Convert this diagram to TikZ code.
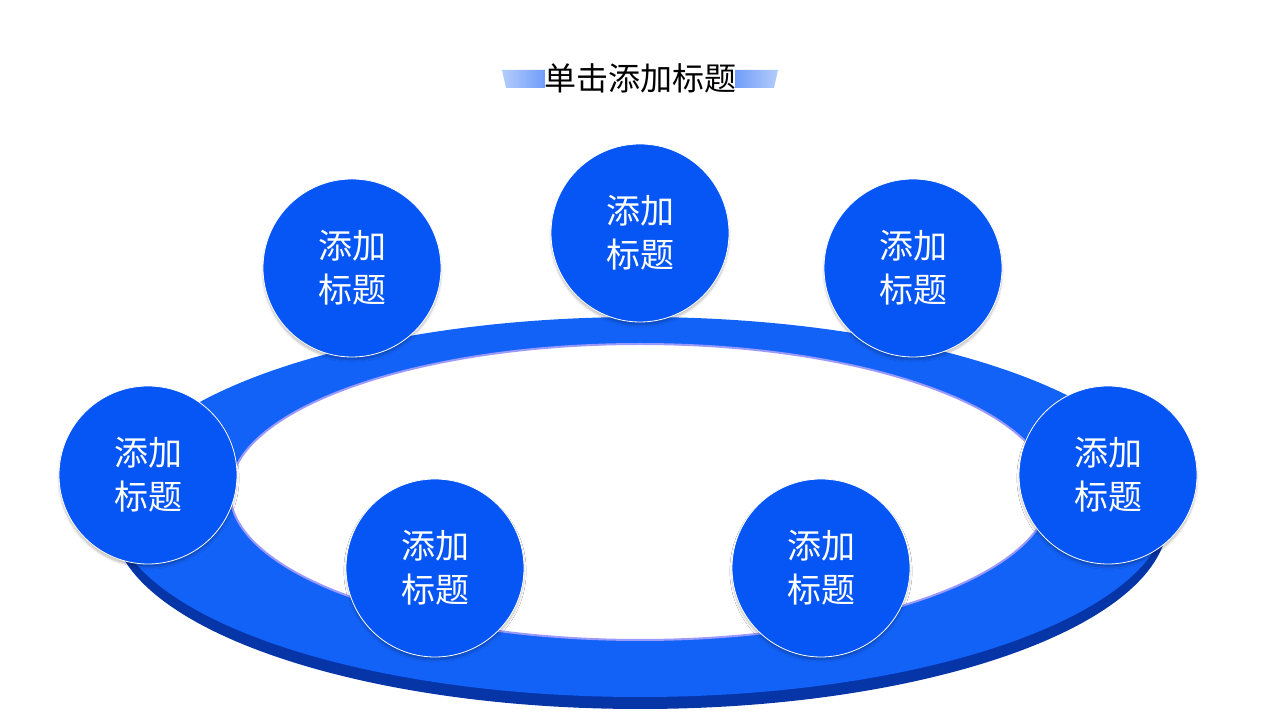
\documentclass[tikz,border=0pt]{standalone}
\usepackage{fontspec}
\setmainfont{Noto Sans CJK SC}
\usetikzlibrary{shadows.blur}
\definecolor{mainblue}{HTML}{0655F5}
\definecolor{ringblue}{HTML}{1262F8}
\definecolor{darkblue}{HTML}{0635A8}
\tikzset{bub/.style={circle,fill=mainblue,draw=white,line width=0.8pt,minimum size=178pt,inner sep=0pt,text=white,font=\fontsize{34}{44}\selectfont,align=center,blur shadow={shadow blur steps=6,shadow xshift=0pt,shadow yshift=-3pt,shadow opacity=25}}}
\begin{document}
\begin{tikzpicture}[x=1pt,y=1pt]
\useasboundingbox (0,0) rectangle (1280,720);
% title decoration
\shade[left color=mainblue!30,right color=mainblue!80] (502,650) -- (580,650) -- (580,632) -- (506,632) -- cycle;
\shade[left color=mainblue!80,right color=mainblue!30] (700,650) -- (778,650) -- (774,632) -- (700,632) -- cycle;
\fill[white] (545,655) rectangle (735,628);
\node[font=\fontsize{32}{38}\selectfont] (title) at (640,642) {单击添加标题};
% ring
\fill[darkblue] (640,201) ellipse [x radius=528,y radius=190];
\fill[ringblue] (640,213) ellipse [x radius=528,y radius=190];
\fill[white] (640,228) ellipse [x radius=410,y radius=148];
\draw[blue!40!white,line width=2pt] (640,228) ellipse [x radius=410,y radius=148];
% bubbles
\node[bub] (b1) at (352,452) {添加\\标题};
\node[bub] (b2) at (640,487) {添加\\标题};
\node[bub] (b3) at (913,452) {添加\\标题};
\node[bub] (b4) at (148,245) {添加\\标题};
\node[bub] (b5) at (1108,245) {添加\\标题};
\node[bub] (b6) at (435,152) {添加\\标题};
\node[bub] (b7) at (821,152) {添加\\标题};
\end{tikzpicture}
\end{document}
